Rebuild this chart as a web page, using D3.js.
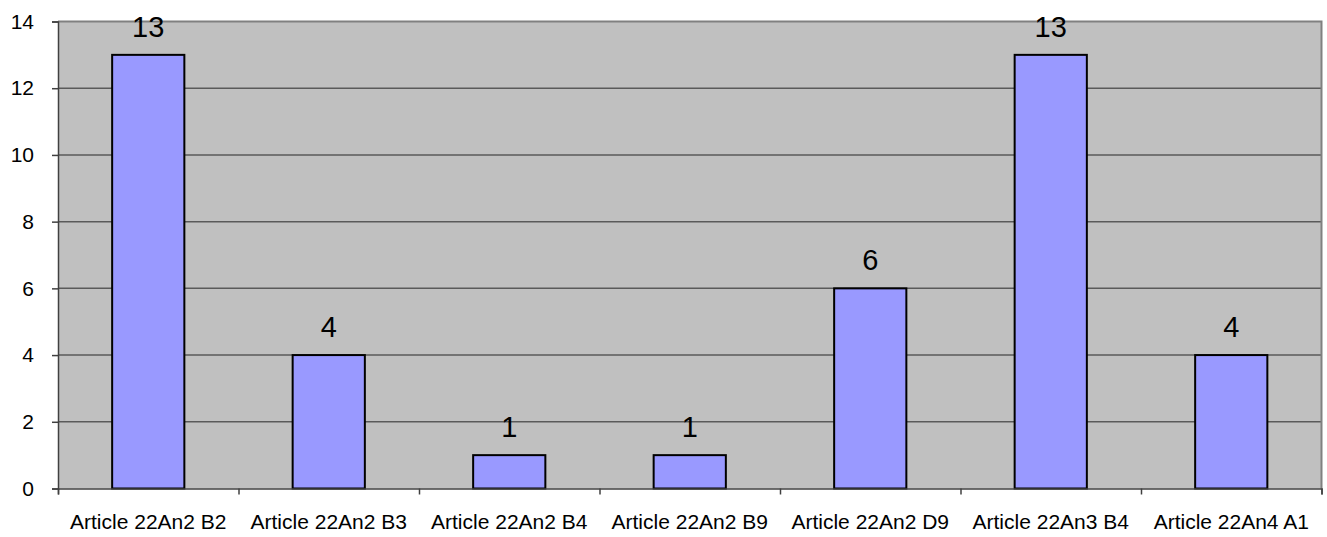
<!DOCTYPE html>
<html>
<head>
<meta charset="utf-8">
<script src="https://cdn.jsdelivr.net/npm/d3@7"></script>
<style>
  html, body { margin: 0; padding: 0; background: #ffffff; }
  svg { display: block; }
  text { font-family: Arial, "Liberation Sans", sans-serif; fill: #000; }
</style>
</head>
<body>
<svg id="chart" width="1327" height="537"></svg>
<script>
const categories = ["Article 22An2 B2", "Article 22An2 B3", "Article 22An2 B4", "Article 22An2 B9", "Article 22An2 D9", "Article 22An3 B4", "Article 22An4 A1"];
const values = [13, 4, 1, 1, 6, 13, 4];
const yTicks = [0, 2, 4, 6, 8, 10, 12, 14];

(function () {
const svg = d3.select("#chart");
const pLeft = 58, pRight = 1321.5, pTop = 21.5, pBottom = 488.5;

const x = d3.scaleBand().domain(categories).range([pLeft, pRight]).paddingInner(0.6).paddingOuter(0.3);
const xb = d3.scaleLinear().domain([0, categories.length]).range([pLeft, pRight]);
const y = d3.scaleLinear().domain([0, 14]).range([pBottom, pTop]);

// plot background
svg.append("rect").attr("x", pLeft).attr("y", pTop).attr("width", pRight - pLeft).attr("height", pBottom - pTop)
  .attr("fill", "#c0c0c0");

// gridlines
svg.append("g").selectAll("line").data(yTicks.filter(d => d > 0 && d < 14)).join("line")
  .attr("x1", pLeft).attr("x2", pRight).attr("y1", d => y(d)).attr("y2", d => y(d))
  .attr("stroke", "#5a5a5a").attr("stroke-width", 1.5);

// plot border (top and right)
svg.append("path").attr("d", `M${pLeft},${pTop}H${pRight}V${pBottom}`)
  .attr("fill", "none").attr("stroke", "#808080").attr("stroke-width", 2);

// bars
svg.append("g").selectAll("rect").data(values).join("rect")
  .attr("x", (d, i) => x(categories[i]))
  .attr("y", d => y(d))
  .attr("width", x.bandwidth())
  .attr("height", d => y(0) - y(d))
  .attr("fill", "#9999ff").attr("stroke", "#000").attr("stroke-width", 2);

// value labels
svg.append("g").selectAll("text").data(values).join("text")
  .attr("x", (d, i) => x(categories[i]) + x.bandwidth() / 2)
  .attr("y", d => y(d) - 18)
  .attr("text-anchor", "middle")
  .attr("font-size", 29)
  .text(d => d);

// y axis
const yAxis = svg.append("g").attr("transform", `translate(${pLeft},0)`)
  .call(d3.axisLeft(y).tickValues(yTicks).tickSize(6).tickPadding(18));
yAxis.select(".domain").attr("stroke", "#404040").attr("stroke-width", 1.5);
yAxis.selectAll(".tick line").attr("stroke", "#404040").attr("stroke-width", 1.5);
yAxis.selectAll(".tick text").attr("font-size", 21).attr("font-family", "Arial, 'Liberation Sans', sans-serif").attr("fill", "#000");

// x axis boundary ticks
const xTickAxis = svg.append("g").attr("transform", `translate(0,${pBottom})`)
  .call(d3.axisBottom(xb).tickValues(d3.range(categories.length + 1)).tickSize(6).tickFormat(""));
xTickAxis.select(".domain").attr("stroke", "#404040").attr("stroke-width", 1.5);
xTickAxis.selectAll(".tick line").attr("stroke", "#404040").attr("stroke-width", 1.5);

// x category labels
const xAxis = svg.append("g").attr("transform", `translate(0,${pBottom})`)
  .call(d3.axisBottom(x).tickSize(0).tickPadding(26));
xAxis.select(".domain").remove();
xAxis.selectAll(".tick text").attr("font-size", 21).attr("font-family", "Arial, 'Liberation Sans', sans-serif").attr("fill", "#000");
})();
</script>
</body>
</html>
